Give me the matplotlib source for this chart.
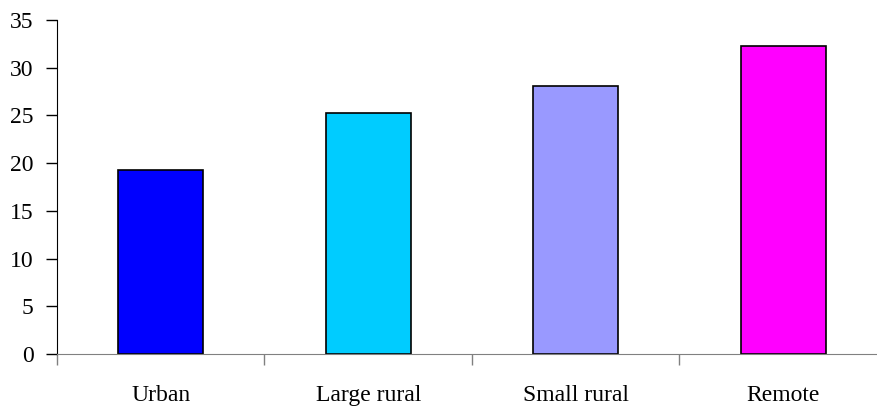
import matplotlib.pyplot as plt
import numpy as np

plt.rcParams.update({
    "font.family": "Liberation Serif",
    "font.size": 17,
})

categories = ["Urban", "Large rural", "Small rural", "Remote"]
values = [19.3, 25.3, 28.1, 32.3]
colors = ["#0000FF", "#00CCFF", "#9999FF", "#FF00FF"]

fig = plt.figure(figsize=(8.78, 4.08), dpi=100)
ax = fig.add_axes([0.065, 0.132, 0.945, 0.819])

x = np.arange(len(categories))
ax.bar(x, values, width=0.41, color=colors, edgecolor="black", linewidth=1.2)

ax.set_xlim(-0.5, 3.5)
ax.set_ylim(0, 35)
ax.set_yticks(range(0, 36, 5))
ax.tick_params(axis="y", direction="out", length=8, width=1, pad=9)

# category labels centred, tick marks on the boundaries
ax.set_xticks(x)
ax.set_xticklabels(categories)
ax.tick_params(axis="x", which="major", length=0, pad=22)
ax.set_xticks(np.arange(-0.5, 3.6, 1.0), minor=True)
ax.tick_params(axis="x", which="minor", direction="out", length=8, width=1, color="#808080")

for side in ["top", "right"]:
    ax.spines[side].set_visible(False)
ax.spines["bottom"].set_color("#808080")
ax.spines["left"].set_color("black")

fig.savefig("out.png", dpi=100)
